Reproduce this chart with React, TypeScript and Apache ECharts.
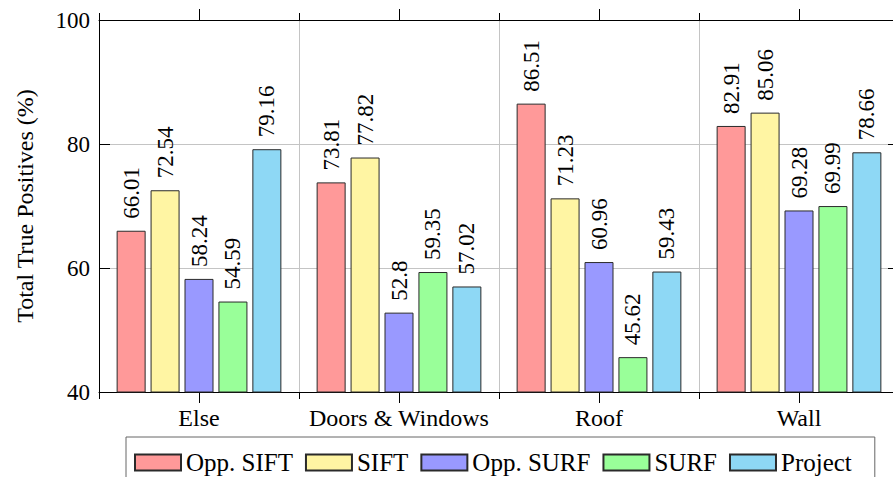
import React, { useEffect, useRef } from "react";
import * as echarts from "echarts";

const categories = ["Else", "Doors & Windows", "Roof", "Wall"];
const seriesNames = ["Opp. SIFT", "SIFT", "Opp. SURF", "SURF", "Project"];
const oppSift = [66.01, 73.81, 86.51, 82.91];
const sift = [72.54, 77.82, 71.23, 85.06];
const oppSurf = [58.24, 52.8, 60.96, 69.28];
const surf = [54.59, 59.35, 45.62, 69.99];
const project = [79.16, 57.02, 59.43, 78.66];
const seriesValues = [oppSift, sift, oppSurf, surf, project];
const seriesColors = ["#ff9999", "#fff5a3", "#9999ff", "#99ff99", "#8ed8f5"];
const yTicks = { min: 40, max: 100, interval: 20 };

const FONT = "Liberation Serif";

export default function App() {
  const ref = useRef<HTMLDivElement>(null);
  useEffect(() => {
    if (!ref.current) return;
    const chart = echarts.init(ref.current, undefined, { renderer: "svg" });
    const baseCat = {
      type: "category" as const,
      data: categories,
      boundaryGap: true,
    };
    chart.setOption({
      animation: false,
      backgroundColor: "#ffffff",
      textStyle: { fontFamily: FONT },
      grid: { left: 99, right: 1, top: 20, bottom: 85, containLabel: false },
      legend: {
        data: seriesNames,
        left: 126,
        top: 437,
        orient: "horizontal",
        itemWidth: 46,
        itemHeight: 16,
        itemGap: 12,
        padding: [13, 23, 13, 8],
        borderColor: "#666666",
        borderWidth: 1,
        borderRadius: 0,
        icon: "rect",
        textStyle: { fontFamily: FONT, fontSize: 25, color: "#000" },
      },
      xAxis: [
        {
          ...baseCat,
          position: "bottom",
          axisLine: { show: true, lineStyle: { color: "#000", width: 1 } },
          axisTick: { show: true, alignWithLabel: true, inside: false, length: 11, lineStyle: { color: "#000" } },
          axisLabel: { show: true, interval: 0, fontFamily: FONT, fontSize: 24, color: "#000", margin: 14 },
          splitLine: { show: false },
        },
        {
          ...baseCat,
          position: "bottom",
          axisLine: { show: false },
          axisTick: { show: true, alignWithLabel: false, inside: false, length: 7, lineStyle: { color: "#000" } },
          axisLabel: { show: false },
          splitLine: { show: true, lineStyle: { color: "#c4c4c4", width: 1 } },
        },
        {
          ...baseCat,
          position: "top",
          axisLine: { show: true, lineStyle: { color: "#000", width: 1 } },
          axisTick: { show: true, alignWithLabel: true, inside: false, length: 11, lineStyle: { color: "#000" } },
          axisLabel: { show: false },
          splitLine: { show: false },
        },
        {
          ...baseCat,
          position: "top",
          axisLine: { show: false },
          axisTick: { show: true, alignWithLabel: false, inside: false, length: 7, lineStyle: { color: "#000" } },
          axisLabel: { show: false },
          splitLine: { show: false },
        },
      ],
      yAxis: [
        {
          type: "value",
          position: "left",
          min: yTicks.min,
          max: yTicks.max,
          interval: yTicks.interval,
          name: "Total True Positives (%)",
          nameLocation: "middle",
          nameGap: 62,
          nameTextStyle: { fontFamily: FONT, fontSize: 24, color: "#000" },
          axisLine: { show: true, lineStyle: { color: "#000", width: 1 } },
          axisTick: { show: true, inside: true, length: 11, lineStyle: { color: "#000" } },
          axisLabel: { fontFamily: FONT, fontSize: 23, color: "#000", margin: 9 },
          splitLine: { show: true, lineStyle: { color: "#c4c4c4", width: 1 } },
        },
        {
          type: "value",
          position: "right",
          min: yTicks.min,
          max: yTicks.max,
          interval: yTicks.interval,
          axisLine: { show: true, lineStyle: { color: "#000", width: 1 } },
          axisTick: { show: true, inside: true, length: 11, lineStyle: { color: "#000" } },
          axisLabel: { show: false },
          splitLine: { show: false },
        },
      ],
      series: seriesNames.map((name, i) => ({
        name,
        type: "bar",
        xAxisIndex: 0,
        yAxisIndex: 0,
        data: seriesValues[i],
        barWidth: 29,
        barGap: "17%",
        itemStyle: { color: seriesColors[i], borderColor: "#2a2a2a", borderWidth: 1 },
        label: {
          show: true,
          position: "top",
          rotate: 90,
          align: "left",
          verticalAlign: "middle",
          distance: 12,
          fontFamily: FONT,
          fontSize: 23,
          color: "#000",
        },
      })),
    });
    return () => chart.dispose();
  }, []);
  return (
    <div style={{ position: "fixed", left: 0, top: 0, width: 893, height: 477, overflow: "hidden", background: "#fff" }}>
      <div ref={ref} style={{ width: 900, height: 477 }} />
    </div>
  );
}
